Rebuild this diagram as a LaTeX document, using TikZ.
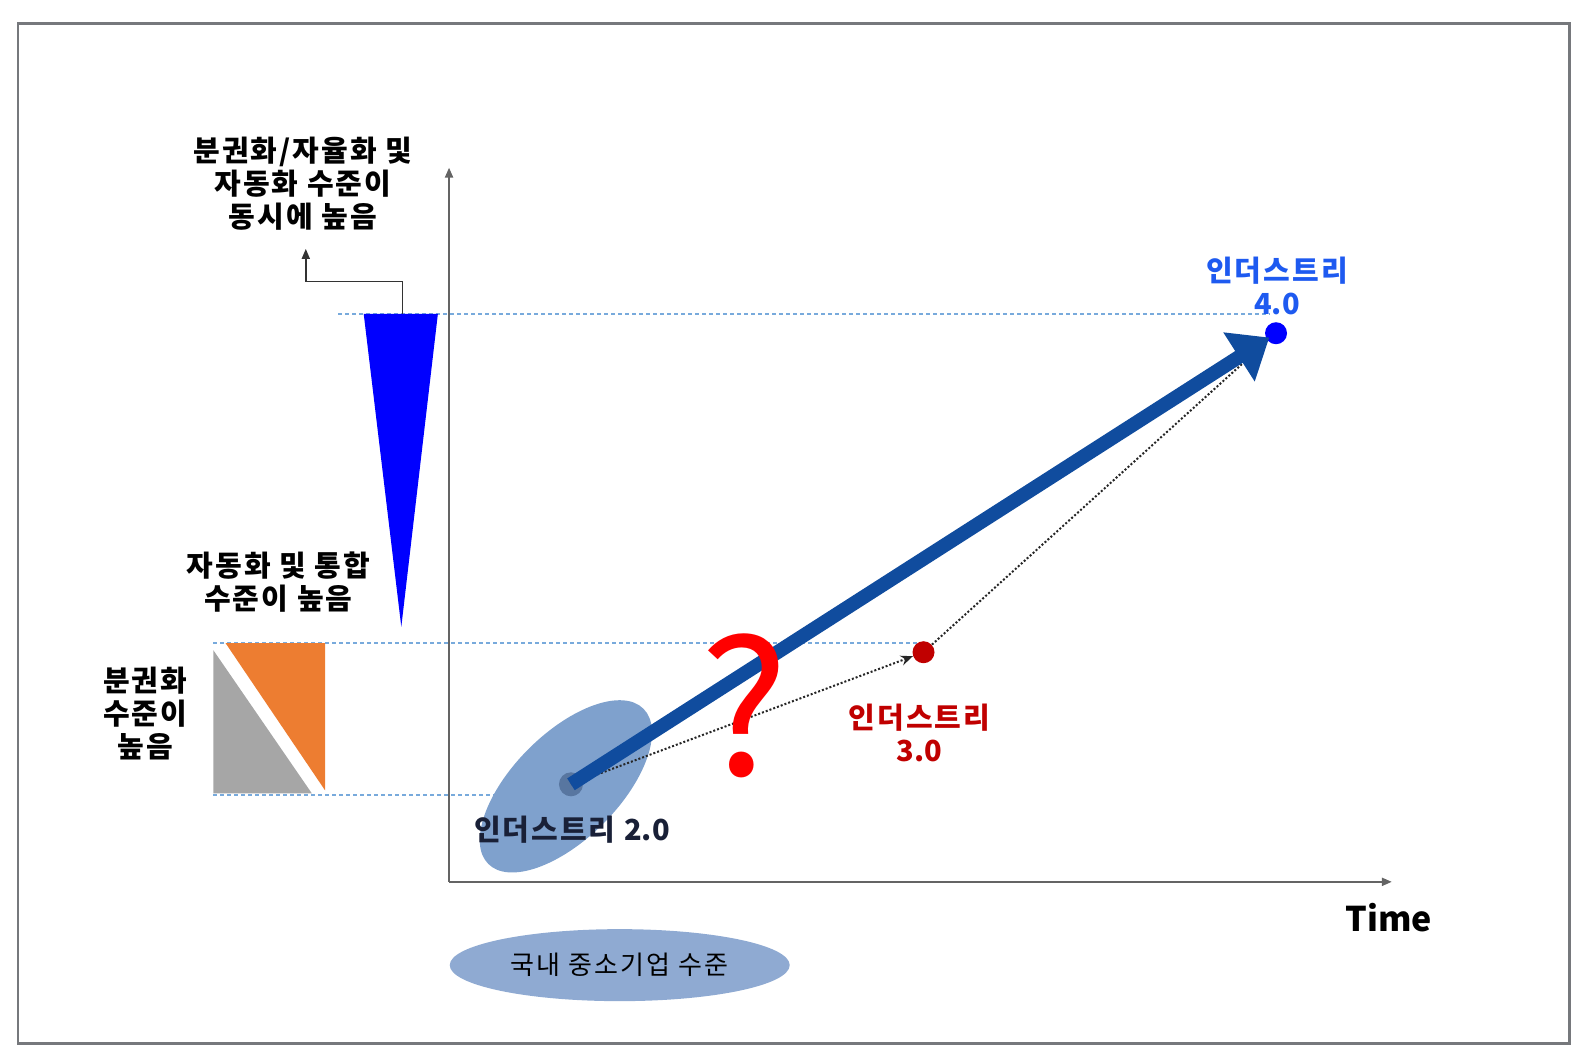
\documentclass[tikz,border=0pt]{standalone}
\usepackage{fontspec}
\setmainfont{Noto Sans CJK KR}
\newfontfamily\lblfont[LetterSpace=7]{Noto Sans CJK KR}
\newfontfamily\smefont[LetterSpace=8]{Noto Sans CJK KR}
\usetikzlibrary{arrows.meta,positioning,shapes.geometric}

\definecolor{framegray}{RGB}{118,120,124}
\definecolor{axisgray}{RGB}{100,100,100}
\definecolor{guideblue}{RGB}{120,170,220}
\definecolor{coneblue}{RGB}{0,0,255}
\definecolor{boxgray}{RGB}{166,166,166}
\definecolor{boxorange}{RGB}{237,125,49}
\definecolor{blobblue}{RGB}{127,161,205}
\definecolor{dotgray}{RGB}{88,118,160}
\definecolor{pathblue}{RGB}{16,76,158}
\definecolor{redthree}{RGB}{192,0,0}
\definecolor{bluefour}{RGB}{30,90,240}
\definecolor{darktext}{RGB}{25,32,55}
\definecolor{smeblue}{RGB}{143,170,210}

\newcommand{\vnum}[1]{{\rmfamily\bfseries #1}}

\tikzset{
  guide/.style={draw=guideblue, line width=1pt, dash pattern=on 2pt off 1.5pt},
  lbl/.style={font=\lblfont\bfseries\fontsize{14.5}{16.5}\selectfont, align=center, inner sep=0pt},
  axisline/.style={draw=axisgray, line width=1pt, -{Triangle[length=5pt,width=4pt]}},
  trace/.style={draw=black!85, line width=1pt, densely dotted, -{Stealth[length=6pt,width=5pt]}},
  bigpath/.style={draw=pathblue, line width=7pt, -{Triangle[length=18pt,width=28pt]}},
  stage/.style={circle, inner sep=0pt, minimum size=11pt}
}

\begin{document}
\begin{tikzpicture}[x=0.508pt,y=-0.508pt]
    \useasboundingbox (0,0) rectangle (1568,1045.3);
    \draw[framegray, line width=1.2pt] (18,23) rectangle (1545,1027);

    % guide lines
    \draw[guide] (333,309) -- (1250,309);
    \draw[guide] (210,633) -- (908,633);
    \draw[guide] (210,783) -- (560,783);

    % axes
    \coordinate (origin) at (442,868);
    \coordinate (ytop) at (442,165);
    \coordinate (xend) at (1370,868);
    \draw[axisline] (origin) -- (ytop);
    \draw[axisline] (origin) -- (xend);
    \node[font=\bfseries\fontsize{17}{20}\selectfont] (timelbl) at (1367,903) {Time};

    % left side shapes
    \fill[coneblue] (358,309) -- (431,309) -- (395,617) -- cycle;
    \fill[boxgray] (210,640) -- (210,781) -- (307,781) -- cycle;
    \fill[boxorange] (222,633) -- (320,633) -- (320,778) -- cycle;

    \coordinate (conetop) at (396,309);
    \coordinate (upend) at (301,245);
    \draw[black!80, line width=0.8pt, -{Triangle[length=5pt,width=4pt]}] (conetop) -- ++(0,-32) -| (upend);

    \node[lbl] (toplbl) at (298,181) {분권화/자율화 및\\자동화 수준이\\동시에 높음};
    \node[lbl] (midlbl) at (274,573) {자동화 및 통합\\수준이 높음};
    \node[lbl] (leftlbl) at (143,702) {분권화\\수준이\\높음};

    % industry 2.0 blob
    \fill[blobblue, rotate around={45:(557,774)}] (557,774) ellipse (108 and 52);
    \node[stage, fill=dotgray, minimum size=12pt] (ind2) at (562,772) {};
    \node[lbl, text=darktext] (ind2lbl) at (563,817) {인더스트리 \vnum{2.0}};

    \node[stage, fill=redthree] (ind3) at (909,642) {};
    \node[lbl, text=redthree] (ind3lbl) at (905,721) {인더스트리\\\vnum{3.0}};

    \node[stage, fill=coneblue] (ind4) at (1256,328) {};
    \node[lbl, text=bluefour] (ind4lbl) at (1257,281) {인더스트리\\\vnum{4.0}};

    % paths
    \draw[trace] (ind2.center) -- (ind3);
    \draw[trace] (ind3) -- (ind4);
    \draw[bigpath, shorten >=4pt] (ind2.center) -- (ind4.center);

    \node[text=red, font=\fontsize{93}{93}\selectfont] (qmark) at (733,695) {?};

    \node[ellipse, fill=smeblue, minimum width=170pt, minimum height=36pt,
          font=\smefont\fontsize{13}{15}\selectfont] (sme) at (610,950) {국내 중소기업 수준};
\end{tikzpicture}
\end{document}
